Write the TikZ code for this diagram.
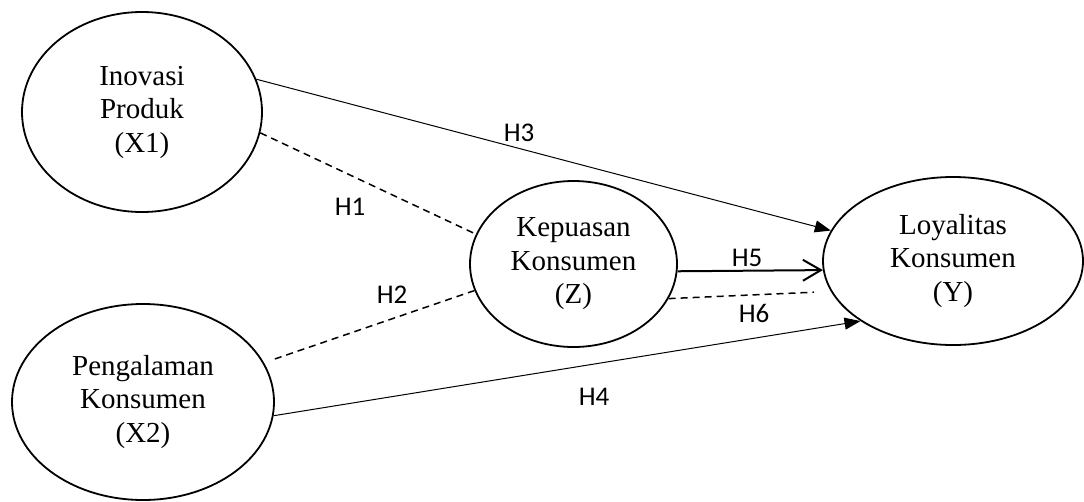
\documentclass[tikz,border=0pt]{standalone}
\usepackage{fontspec}
\setmainfont{Liberation Serif}
\newfontfamily\labfont{Carlito}
\usetikzlibrary{arrows.meta,shapes.geometric}
\begin{document}
\begin{tikzpicture}[x=1pt,y=-1pt,
  var/.style={draw, ellipse, line width=1.8pt, inner sep=0pt, align=center,
    font=\fontsize{29}{33.5}\selectfont},
  hlab/.style={font=\labfont\fontsize{27}{30}\selectfont, inner sep=0pt},
  thinline/.style={line width=1pt},
  dashline/.style={line width=1.5pt, dash pattern=on 7pt off 5pt},
  fillarrow/.style={-{Triangle[length=16pt,width=12pt]}},
]
\useasboundingbox (0,0) rectangle (1084,501);

\node[var, minimum width=240pt, minimum height=200pt] (x1) at (142,112) {Inovasi\\Produk\\(X1)};
\node[var, minimum width=262pt, minimum height=196pt] (x2) at (143,402) {Pengalaman\\Konsumen\\(X2)};
\node[var, minimum width=207pt, minimum height=166pt] (z) at (573.5,264) {Kepuasan\\Konsumen\\(Z)};
\node[var, minimum width=260pt, minimum height=168pt] (y) at (953,261) {Loyalitas\\Konsumen\\(Y)};

\draw[thinline, fillarrow] (x1.16.9) -- (y.166.4);
\draw[dashline] (x1.-10.5) -- (z.163.2);
\draw[dashline, shorten <=11.5pt] (x2.18.7) -- (z.-165.2);
\draw[thinline, fillarrow] (x2.-6.6) -- (y.-147.3);
\draw[line width=2pt, -{Straight Barb[length=18pt,width=21pt]}] (z.-4.4) -- (y.184.8);
\draw[dashline, shorten >=17pt] (z.-20.4) -- (y.194.5);

\node[hlab] (h3) at (519,133) {H3};
\node[hlab] (h1) at (350,207) {H1};
\node[hlab] (h2) at (392,295) {H2};
\node[hlab] (h5) at (747,258) {H5};
\node[hlab] (h6) at (754,313) {H6};
\node[hlab] (h4) at (594,397) {H4};
\end{tikzpicture}
\end{document}
